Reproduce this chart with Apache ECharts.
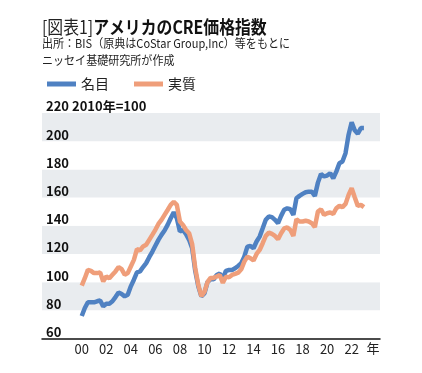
<!DOCTYPE html>
<html><head><meta charset="utf-8">
<script src="https://cdn.jsdelivr.net/npm/echarts@6/dist/echarts.min.js"></script>
<style>html,body{margin:0;padding:0;background:#fff}#c{width:422px;height:373px}</style>
</head><body><div id="c"></div>
<script>
// quarterly data, 2000Q1 onwards (index: 2010 = 100)
const startYear = 2000;
const nominal = [
  76, 81.6, 85.7, 85.7,
  85.7, 86.4, 87, 82.8,
  84.7, 84.7, 86.4, 89.4,
  92.7, 91.6, 89.9, 91,
  97, 101.7, 106.9, 107.6,
  110.7, 113.5, 117.7, 121.5,
  125.8, 130, 133.5, 136.6,
  140.6, 145.3, 149.5, 145.3,
  135.9, 137, 134, 130,
  124, 108, 97, 90,
  92, 100, 102, 102,
  105, 106, 102.5, 108,
  108.6, 108.6, 109.8, 111.5,
  113.4, 118.1, 125.2, 125.7,
  124, 128.8, 132.3, 138.2,
  144.2, 146.6, 146.1, 144.2,
  141.8, 147, 151.3, 152.4,
  151.7, 147.7, 159.5, 161.2,
  162.6, 163.8, 164.2, 164.2,
  161.2, 170.6, 176.8, 175,
  175.6, 177.3, 173.7, 178.4,
  184.4, 185.6, 191.5, 204.6,
  213.4, 207.7, 205.3, 209.3,
  209.3
];
const real = [
  97.5, 102.8, 108.7, 108,
  106.4, 106.4, 106.9, 100.5,
  104, 102.8, 105.2, 107.6,
  110.7, 109.2, 105.2, 106.4,
  111.1, 115.8, 123.4, 122.5,
  125.3, 126.5, 130, 133.5,
  137.1, 141.3, 144.2, 147.7,
  151.2, 154.8, 157, 154.8,
  143, 140.6, 137, 134.7,
  127, 110, 98, 90,
  93, 100, 103, 103,
  104, 105, 99.5, 103.9,
  103.4, 105.1, 105.8, 106.7,
  109.1, 114.5, 118.1, 116.9,
  115.3, 120, 122.8, 127.6,
  132.8, 135.1, 134.2, 132.8,
  130.4, 134.7, 138.1, 138.8,
  137, 132.8, 144.6, 143,
  143, 143.5, 143, 141.8,
  139, 150.1, 151.7, 147.7,
  148.9, 149.4, 148.4, 152.4,
  154.1, 153.2, 155.5, 161.9,
  166.6, 160.2, 154.1, 154.8,
  153.2
];
const seriesNames = ['名目', '実質'];
const xTickYears = [2000, 2002, 2004, 2006, 2008, 2010, 2012, 2014, 2016, 2018, 2020, 2022];
const yMin = 60, yMax = 220, yStep = 20;
const titleMain = 'アメリカのCRE価格指数';
const titleTag = '[図表1]';
const sourceLines = ['出所：BIS（原典はCoStar Group,Inc）等をもとに', 'ニッセイ基礎研究所が作成'];
const yUnit = '2010年=100';
const xUnit = '年';

const FONT = '"Noto Sans CJK JP", "Noto Sans", sans-serif';
const toPairs = arr => arr.map((v, i) => [startYear + i * 0.25, v]);

const chart = echarts.init(document.getElementById('c'), null, {renderer: 'canvas'});
chart.setOption({
  animation: false,
  backgroundColor: '#ffffff',
  grid: {left: 42, right: 42, top: 113, bottom: 34.5, containLabel: false},
  legend: {
    left: 42, top: 72, icon: 'rect', itemWidth: 29, itemHeight: 5, itemGap: 25,
    itemStyle: {borderWidth: 0},
    textStyle: {fontSize: 14, color: '#222', fontFamily: FONT},
    data: seriesNames
  },
  xAxis: {
    type: 'value', min: 1996.76, max: 2024.31,
    axisLine: {show: true, lineStyle: {color: '#111', width: 1.5}},
    axisTick: {show: false},
    splitLine: {show: false},
    axisLabel: {
      customValues: xTickYears, margin: 4, fontSize: 13, color: '#222', fontFamily: FONT,
      formatter: v => String(Math.round(v) % 100).padStart(2, '0')
    }
  },
  yAxis: {
    type: 'value', min: yMin, max: yMax, interval: yStep,
    axisLine: {show: false}, axisTick: {show: false},
    splitLine: {show: false},
    splitArea: {show: true, areaStyle: {color: ['#ffffff', '#e9ecef']}},
    axisLabel: {
      inside: true, margin: 4, align: 'left', verticalAlign: 'bottom',
      fontSize: 13, fontWeight: 'bold', color: '#111', fontFamily: FONT,
      showMinLabel: true, showMaxLabel: true,
      formatter: v => v === yMax ? v + ' ' + yUnit : String(v)
    }
  },
  series: [
    {name: seriesNames[0], type: 'line', data: toPairs(nominal), showSymbol: false,
     lineStyle: {color: '#4f81c2', width: 4.5}, itemStyle: {color: '#4f81c2', borderWidth: 0}},
    {name: seriesNames[1], type: 'line', data: toPairs(real), showSymbol: false,
     lineStyle: {color: '#ef9e7a', width: 4.5}, itemStyle: {color: '#ef9e7a', borderWidth: 0}}
  ],
  graphic: [
    {type: 'text', x: 42, y: 27, scaleX: 0.88, style: {
      text: '{n|' + titleTag + '}{b|' + titleMain + '}', verticalAlign: 'middle',
      rich: {
        n: {fontSize: 18, fontWeight: 'normal', fill: '#222', fontFamily: FONT},
        b: {fontSize: 18, fontWeight: 'bold', fill: '#111', fontFamily: FONT}
      }}},
    {type: 'text', x: 42, y: 43, scaleX: 0.92, style: {text: sourceLines[0], verticalAlign: 'middle',
      fontSize: 12, fill: '#222', fontFamily: FONT}},
    {type: 'text', x: 42, y: 60, scaleX: 0.92, style: {text: sourceLines[1], verticalAlign: 'middle',
      fontSize: 12, fill: '#222', fontFamily: FONT}},
    {type: 'text', x: 373, y: 348, style: {text: xUnit, align: 'center', verticalAlign: 'middle',
      fontSize: 13, fill: '#222', fontFamily: FONT}}
  ]
});
</script></body></html>
